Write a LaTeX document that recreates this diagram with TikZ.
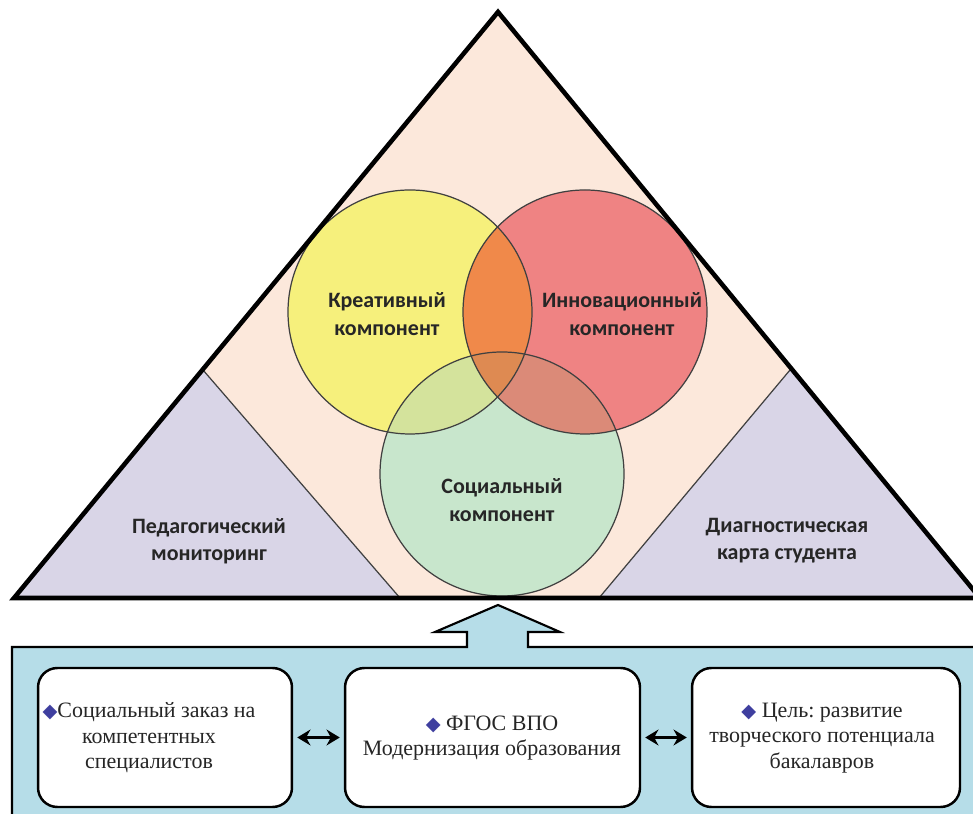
\documentclass[tikz,border=0pt]{standalone}
\usepackage{fontspec}
\setmainfont{Liberation Serif}
\newfontfamily\calfont{Carlito}
\newfontfamily\symfont{DejaVu Sans}
\usetikzlibrary{arrows.meta}
\frenchspacing

\definecolor{peach}{HTML}{FCE8DB}
\definecolor{lavender}{HTML}{D9D5E7}
\definecolor{yel}{HTML}{F6F07C}
\definecolor{redc}{HTML}{EF8383}
\definecolor{orng}{HTML}{F0894A}
\definecolor{grn}{HTML}{C8E6CC}
\definecolor{ygrn}{HTML}{D4E39C}
\definecolor{rgrn}{HTML}{DB8A78}
\definecolor{trip}{HTML}{DE8A52}
\definecolor{panel}{HTML}{B6DDE8}
\definecolor{bullet}{HTML}{3F3F9F}

\newcommand{\dmnd}{{\symfont\color{bullet}\fontsize{11}{11}\selectfont ◆}}

\begin{document}
\begin{tikzpicture}[x=0.02cm,y=0.02cm]
    \tikzset{comp/.style={font=\calfont\bfseries\fontsize{12.5}{15.5}\selectfont, align=center, text=black!85}}
    \tikzset{rim/.style={draw=black!75, line width=0.7pt}}
    \tikzset{box/.style={draw, line width=1.4pt, rounded corners=11pt, fill=white, minimum height=2.78cm}}
    \tikzset{boxtext/.style={font=\fontsize{12.5}{14.5}\selectfont, align=center, text=black!85}}
    \tikzset{link/.style={{Stealth[length=7.5pt,width=9pt]}-{Stealth[length=7.5pt,width=9pt]}, line width=1.8pt, shorten >=2.3pt, shorten <=2.3pt}}
    \useasboundingbox (0,0) rectangle (973,814);

    \coordinate (top) at (498,802);
    \coordinate (bl) at (14,216);
    \coordinate (br) at (980,216);
    \coordinate (Y) at (410,502);
    \coordinate (R) at (585,502);
    \coordinate (G) at (502,340);

    \fill[peach] (top) -- (bl) -- (br) -- cycle;
    \fill[lavender] (bl) -- (203,444) -- (400,216) -- cycle;
    \fill[lavender] (br) -- (790,444) -- (599,216) -- cycle;
    \draw[rim] (203,444) -- (400,216);
    \draw[rim] (790,444) -- (599,216);

    \fill[yel] (Y) circle (122);
    \fill[redc] (R) circle (122);
    \fill[grn] (G) circle (122);
    \begin{scope}
        \clip (R) circle (122);
        \fill[rgrn] (G) circle (122);
    \end{scope}
    \begin{scope}
        \clip (Y) circle (122);
        \fill[orng] (R) circle (122);
        \fill[ygrn] (G) circle (122);
        \clip (R) circle (122);
        \fill[trip] (G) circle (122);
    \end{scope}
    \draw[rim] (Y) circle (122);
    \draw[rim] (R) circle (122);
    \draw[rim] (G) circle (122);

    \draw[line width=2.6pt, line join=miter] (top) -- (bl) -- (br) -- cycle;

    \node[comp] (kreativ) at (387,500) {Креативный\\компонент};
    \node[comp] (innov) at (622,500) {Инновационный\\компонент};
    \node[comp] (social) at (502,314) {Социальный\\компонент};
    \node[comp] (monitor) at (209,273) {Педагогический\\мониторинг};
    \node[comp] (karta) at (787,273) {Диагностическая\\карта студента};

    \draw[line width=1.2pt, fill=panel] (12,-20) -- (12,167) -- (467,167) -- (467,182) -- (435,182)
        -- (498,209) -- (560,182) -- (528,182) -- (528,167) -- (1000,167) -- (1000,-20) -- cycle;

    \node[box, minimum width=5.08cm] (zakaz) at (165,76.5) {};
    \node[box, minimum width=5.9cm] (fgos) at (492.5,76.5) {};
    \node[box, minimum width=5.36cm] (cel) at (826,76.5) {};

    \node[boxtext] (zakaztext) at (149,76) {\dmnd Социальный заказ на\\компетентных\\специалистов};
    \node[boxtext] (fgostext) at (492,76) {\dmnd\ ФГОС ВПО\\Модернизация образования};
    \node[boxtext] (celtext) at (822,76) {\dmnd\ Цель: развитие\\творческого потенциала\\бакалавров};

    \draw[link] (zakaz) -- (fgos);
    \draw[link] (fgos) -- (cel);
\end{tikzpicture}
\end{document}
